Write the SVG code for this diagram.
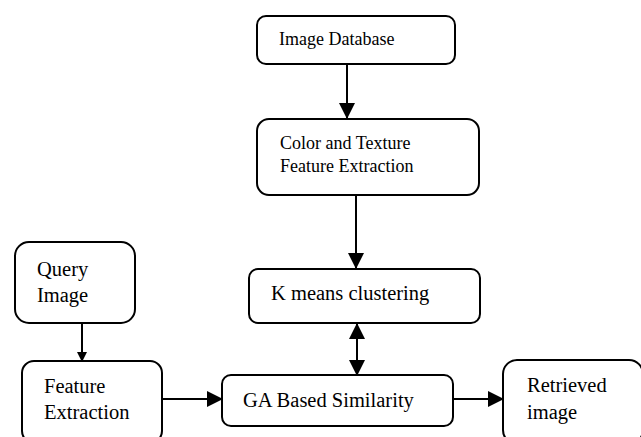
<svg xmlns="http://www.w3.org/2000/svg" width="641" height="437" viewBox="0 0 641 437">
<style>
.box{fill:#fff;stroke:#000;stroke-width:2}
.t{font-family:"Liberation Serif","Times New Roman",serif;fill:#000}
.s{font-size:18px}
.l{font-size:20.5px}
.c{stroke:#000;stroke-width:2;fill:none}
</style>
<defs>
<marker id="ah" markerWidth="16" markerHeight="16" viewBox="0 0 16 16" refX="15" refY="8" orient="auto" markerUnits="userSpaceOnUse">
<path d="M0,0 L16,8 L0,16 Z" fill="#000"/>
</marker>
<marker id="as" markerWidth="16" markerHeight="16" viewBox="0 0 16 16" refX="1" refY="8" orient="auto" markerUnits="userSpaceOnUse">
<path d="M16,0 L0,8 L16,16 Z" fill="#000"/>
</marker>
<marker id="small" markerWidth="10" markerHeight="10" viewBox="0 0 10 10" refX="9" refY="5" orient="auto" markerUnits="userSpaceOnUse">
<path d="M0,0 L10,5 L0,10 Z" fill="#000"/>
</marker>
</defs>
<g id="connectors">
<line class="c" x1="347" y1="64" x2="347" y2="118" marker-end="url(#ah)"/>
<line class="c" x1="356" y1="195" x2="356" y2="268" marker-end="url(#ah)"/>
<line class="c" x1="357" y1="324" x2="357" y2="375" marker-start="url(#as)" marker-end="url(#ah)"/>
<line class="c" x1="82" y1="323" x2="82" y2="361" marker-end="url(#small)"/>
<line class="c" x1="162" y1="399" x2="222" y2="399" marker-end="url(#ah)"/>
<line class="c" x1="453" y1="399" x2="503" y2="399" marker-end="url(#ah)"/>
</g>
<g id="image-database">
<rect class="box" x="257" y="16" width="198" height="48" rx="9"/>
<text class="t s" x="279" y="45">Image Database</text>
</g>
<g id="color-texture">
<rect class="box" x="257" y="119" width="222" height="76" rx="12"/>
<text class="t s" x="280" y="149">Color and Texture</text>
<text class="t s" x="280" y="172">Feature Extraction</text>
</g>
<g id="kmeans">
<rect class="box" x="249" y="269" width="231" height="54" rx="9"/>
<text class="t l" x="271" y="300">K means clustering</text>
</g>
<g id="query-image">
<rect class="box" x="15" y="242" width="120" height="81" rx="14"/>
<text class="t l" x="37" y="276">Query</text>
<text class="t l" x="37" y="302">Image</text>
</g>
<g id="feature-extraction">
<rect class="box" x="22" y="361" width="140" height="82" rx="12"/>
<text class="t l" x="44" y="393">Feature</text>
<text class="t l" x="44" y="419">Extraction</text>
</g>
<g id="ga-similarity">
<rect class="box" x="222" y="375" width="231" height="51" rx="9"/>
<text class="t l" x="243" y="407">GA Based Similarity</text>
</g>
<g id="retrieved-image">
<rect class="box" x="503" y="360" width="140" height="84" rx="14"/>
<text class="t l" x="527" y="392">Retrieved</text>
<text class="t l" x="527" y="419">image</text>
</g>
</svg>
